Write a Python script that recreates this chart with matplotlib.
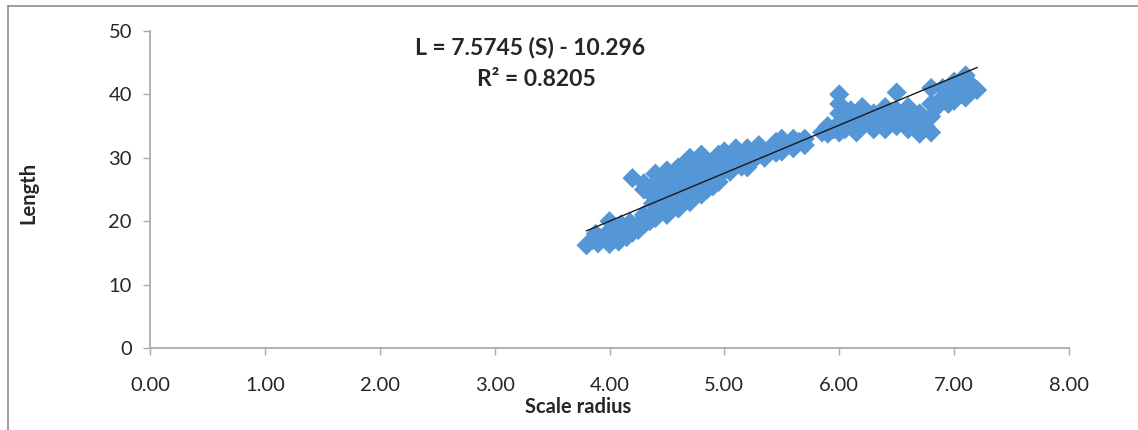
import matplotlib
matplotlib.use("Agg")
import matplotlib.pyplot as plt
from matplotlib.lines import Line2D

# ---------------------------------------------------------------- dados
radius = [
    3.80, 3.85, 3.90, 3.95, 4.00, 4.00, 4.00, 4.05, 4.10, 4.10, 4.15, 4.20, 4.20,
    4.25, 4.30, 4.30, 4.35, 4.40, 4.40, 4.45, 4.50, 4.50, 4.55, 4.60, 4.60, 4.65,
    4.70, 4.70, 3.88, 3.98, 4.08, 4.18, 4.28, 4.38, 4.48, 4.58, 4.68, 4.78,
    4.42, 4.52, 4.62, 4.72, 4.45, 4.55, 4.65, 4.85, 4.90, 4.95, 5.05, 5.15,
    4.20, 4.30, 4.30, 4.35, 4.40, 4.40, 4.45, 4.50, 4.50, 4.55, 4.60, 4.60, 4.65,
    4.70, 4.70, 4.75, 4.80, 4.80, 4.80, 4.80, 4.75, 4.85, 4.90, 4.90, 4.95, 5.00,
    5.00, 5.00, 5.05, 5.10, 5.10, 5.15, 5.20, 5.20, 5.25, 5.30, 5.30, 5.35, 5.40,
    5.45, 5.50, 5.50, 5.55, 5.60, 5.60, 5.65, 5.70, 5.70, 5.25, 5.35, 5.45,
    5.85, 5.90, 5.90, 5.95, 6.00, 6.00, 6.00, 6.00, 6.00, 6.05, 6.10, 6.10, 6.15,
    6.15, 6.20, 6.20, 6.25, 6.30, 6.30, 6.35, 6.40, 6.40, 6.45, 6.50, 6.50, 6.50,
    6.55, 6.60, 6.60, 6.65, 6.70, 6.70, 6.75, 6.80, 6.80, 6.80, 6.80, 6.85, 6.90,
    6.90, 6.95, 7.00, 7.00, 7.05, 7.10, 7.10, 7.15, 7.20, 6.05, 6.25, 6.45, 6.65,
    6.95, 7.05,
]
length = [
    16.2, 17.0, 16.5, 17.5, 16.4, 18.5, 20.0, 17.2, 18.0, 19.5, 17.5, 18.2, 19.0,
    18.6, 19.5, 21.0, 20.0, 21.5, 20.5, 22.0, 21.0, 22.5, 23.0, 22.0, 24.0, 23.5,
    25.0, 23.0, 18.0, 17.6, 16.8, 19.8, 20.2, 22.8, 23.8, 25.2, 26.0, 26.8,
    24.0, 25.0, 26.2, 27.0, 23.0, 24.2, 25.8, 27.0, 27.5, 26.2, 27.8, 28.6,
    26.8, 25.0, 26.0, 24.5, 27.5, 26.0, 25.5, 27.0, 28.0, 26.5, 28.5, 27.0, 29.0,
    28.0, 30.0, 29.0, 30.5, 28.5, 26.0, 24.2, 25.0, 25.0, 29.5, 25.5, 30.5, 31.0,
    29.0, 28.0, 30.0, 31.5, 29.0, 30.5, 28.5, 31.5, 30.0, 31.0, 32.0, 30.5, 31.5,
    32.5, 31.0, 33.0, 32.0, 33.0, 31.5, 32.5, 33.0, 32.0, 29.6, 30.0, 30.8,
    34.0, 35.0, 33.8, 34.5, 40.0, 38.5, 37.0, 35.5, 34.0, 36.0, 35.0, 37.5, 34.0,
    36.5, 38.0, 35.0, 36.0, 34.5, 37.0, 35.5, 38.0, 34.5, 36.5, 40.3, 35.0, 37.5,
    36.0, 38.0, 34.5, 35.5, 37.0, 33.8, 35.0, 34.0, 36.5, 38.5, 41.0, 38.0, 39.5,
    41.0, 40.0, 42.0, 39.0, 41.0, 43.0, 39.5, 41.5, 40.7, 34.5, 37.0, 35.5, 36.8,
    38.5, 40.0,
]
slope, intercept = 7.5745, -10.296
fit_x = [3.8, 7.2]
x_ticks = [0, 1, 2, 3, 4, 5, 6, 7, 8]
y_ticks = [0, 10, 20, 30, 40, 50]

BLUE = "#5596D6"
GREY = "#ABABAB"
INK = "#262626"

plt.rcParams["font.family"] = ["Lato", "DejaVu Sans"]

fig = plt.figure(figsize=(11.38, 4.30), dpi=100)
fig.patch.set_facecolor("white")
ax = fig.add_axes([150 / 1138, 82 / 430, 919 / 1138, 317 / 430])

ax.scatter(radius, length, marker="D", s=105, color=BLUE, edgecolors="none", zorder=3)
ax.plot(fit_x, [slope * v + intercept for v in fit_x], color="#1a1a1a", lw=1.0, zorder=4)

ax.set_xlim(0, 8)
ax.set_ylim(0, 50)
ax.set_xticks(x_ticks)
ax.set_xticklabels([f"{v:.2f}" for v in x_ticks])
ax.set_yticks(y_ticks)
for s in ["top", "right"]:
    ax.spines[s].set_visible(False)
for s in ["left", "bottom"]:
    ax.spines[s].set_color(GREY)
    ax.spines[s].set_linewidth(1.3)
ax.tick_params(axis="both", direction="out", length=5, width=1.0, color=GREY,
               labelsize=14.5, labelcolor=INK)
ax.tick_params(axis="x", pad=16)
ax.tick_params(axis="y", pad=8)

ax.set_ylabel("Length", fontsize=14.5, fontweight="bold", color=INK)
ax.yaxis.set_label_coords(-0.121, 0.49)
fig.text(578 / 1138, 1 - 407 / 430, "Scale radius", fontsize=14.5, fontweight="bold",
         color=INK, ha="center", va="center")

fig.text(530 / 1138, 1 - 47 / 430, "L = 7.5745 (S) - 10.296", fontsize=16.5,
         fontweight="bold", color=INK, ha="center", va="center")
fig.text(536 / 1138, 1 - 80 / 430, "R² = 0.8205", fontsize=16.5,
         fontweight="bold", color=INK, ha="center", va="center")

# moldura externa (so topo e esquerda visiveis)
fig.add_artist(Line2D([8 / 1138, 1], [1 - 5.5 / 430, 1 - 5.5 / 430],
                      transform=fig.transFigure, color="#8c8c8c", lw=1.2))
fig.add_artist(Line2D([8 / 1138, 8 / 1138], [0, 1 - 5.5 / 430],
                      transform=fig.transFigure, color="#8c8c8c", lw=1.2))

fig.savefig("out.png", dpi=100)
